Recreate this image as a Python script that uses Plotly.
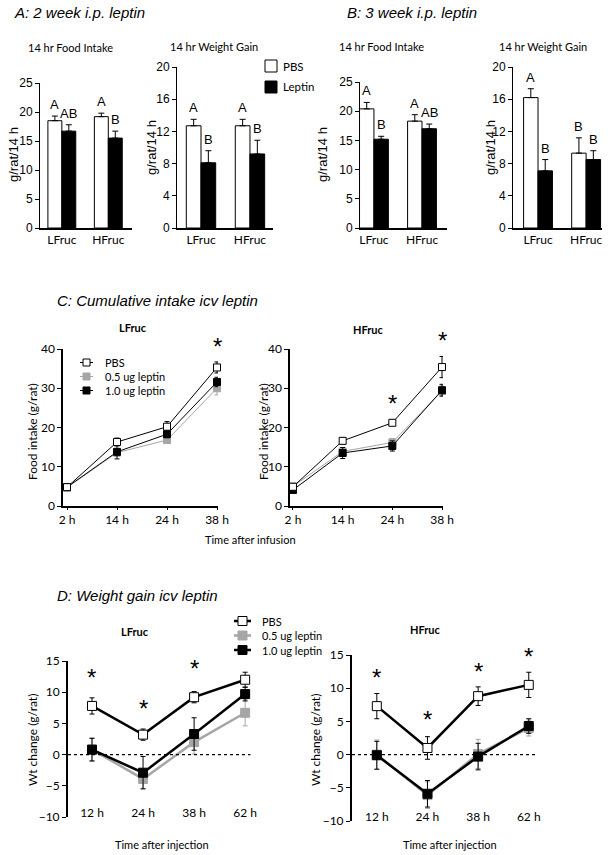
import plotly.graph_objects as go

W, H = 615, 855

# ---- data ----
groups = ["LFruc", "HFruc"]

# A: 2 week i.p. leptin
a_food_pbs = [18.5, 19.2]
a_food_pbs_err = [0.8, 0.6]
a_food_lep = [16.7, 15.5]
a_food_lep_err = [1.1, 1.2]
a_wt_pbs = [12.7, 12.7]
a_wt_pbs_err = [0.8, 0.8]
a_wt_lep = [8.1, 9.2]
a_wt_lep_err = [1.5, 1.7]

# B: 3 week i.p. leptin
b_food_pbs = [20.4, 18.3]
b_food_pbs_err = [1.1, 1.1]
b_food_lep = [15.2, 17.0]
b_food_lep_err = [0.5, 0.8]
b_wt_pbs = [16.2, 9.3]
b_wt_pbs_err = [1.1, 1.9]
b_wt_lep = [7.1, 8.5]
b_wt_lep_err = [1.4, 1.1]

# significance letters (PBS, Leptin) per group
a_food_letters = (["A", "A"], ["AB", "B"])
a_wt_letters = (["A", "A"], ["B", "B"])
b_food_letters = (["A", "A"], ["B", "AB"])
b_wt_letters = (["A", "B"], ["B", "B"])

# C: cumulative intake icv leptin
times_c = ["2 h", "14 h", "24 h", "38 h"]
c_l_pbs = [4.8, 16.3, 20.2, 35.3]
c_l_pbs_err = [0.3, 1.0, 1.3, 1.4]
c_l_05 = [4.7, 13.6, 16.8, 30.0]
c_l_05_err = [0.3, 1.0, 0.6, 1.7]
c_l_10 = [4.8, 13.8, 18.3, 31.6]
c_l_10_err = [0.3, 1.8, 0.9, 1.2]
c_h_pbs = [4.9, 16.6, 21.2, 35.4]
c_h_pbs_err = [0.4, 0.8, 0.7, 2.7]
c_h_05 = [5.0, 13.9, 16.2, 29.3]
c_h_05_err = [0.4, 0.9, 1.0, 1.3]
c_h_10 = [4.1, 13.5, 15.3, 29.5]
c_h_10_err = [0.4, 1.4, 1.3, 1.5]
c_l_stars = (["38 h"], [41.5])
c_h_stars = (["24 h", "38 h"], [27.0, 43.0])

# D: weight gain icv leptin
times_d = ["12 h", "24 h", "38 h", "62 h"]
d_l_pbs = [7.8, 3.2, 9.2, 12.0]
d_l_pbs_err = [1.3, 0.9, 0.9, 1.2]
d_l_05 = [0.8, -3.9, 2.0, 6.7]
d_l_05_err = [1.9, 1.5, 1.9, 2.1]
d_l_10 = [0.8, -2.9, 3.3, 9.7]
d_l_10_err = [1.8, 2.6, 2.6, 1.1]
d_h_pbs = [7.3, 1.0, 8.8, 10.5]
d_h_pbs_err = [1.9, 1.7, 1.4, 1.9]
d_h_05 = [0.0, -6.1, 0.1, 4.0]
d_h_05_err = [2.2, 2.0, 2.2, 1.2]
d_h_10 = [-0.1, -5.9, -0.3, 4.3]
d_h_10_err = [2.1, 2.0, 2.0, 1.1]
d_l_stars = (["12 h", "24 h", "38 h"], [12.8, 7.8, 14.2])
d_h_stars = (["12 h", "24 h", "38 h", "62 h"], [12.0, 5.8, 13.0, 15.3])

dose_names = ["PBS", "0.5 ug leptin", "1.0 ug leptin"]
bar_names = ["PBS", "Leptin"]

ARIAL = "Liberation Sans, Arial"
CALI = "Lato, Open Sans"
GRAY = "#a6a6a6"


def fx(p):
    return p / W


def fy(p):
    return 1 - p / H


panels = {
    1: dict(x=(40, 132, [-0.47, 1.51]), y=(83, 228, [0, 25], 5)),
    2: dict(x=(177, 273, [-0.49, 1.47]), y=(67, 228, [0, 20], 4)),
    3: dict(x=(360, 447, [-0.29, 1.52]), y=(82, 228, [0, 25], 5)),
    4: dict(x=(513, 602, [-0.52, 1.33]), y=(67, 228, [0, 20], 4)),
    5: dict(x=(63, 218, [-0.08, 3.02]), y=(349, 506, [0, 40], 10)),
    6: dict(x=(290, 443, [-0.06, 3.02]), y=(349, 506, [0, 40], 10)),
    7: dict(x=(68, 262, [-0.47, 3.33]), y=(661, 817, [-10, 15], 5)),
    8: dict(x=(352, 548, [-0.49, 3.38]), y=(655, 821, [-10, 15], 5)),
}

fig = go.Figure()
annots = []
shapes = []


def bar_panel(n, pbs, pbs_err, lep, lep_err, letters):
    xa = "x" if n == 1 else f"x{n}"
    ya = "y" if n == 1 else f"y{n}"
    fig.add_trace(go.Bar(x=groups, y=pbs, name=bar_names[0], xaxis=xa, yaxis=ya,
                         marker=dict(color="white", line=dict(color="black", width=1)),
                         error_y=dict(type="data", array=pbs_err, arrayminus=[0] * len(pbs),
                                      symmetric=False, color="black", thickness=1, width=3)))
    fig.add_trace(go.Bar(x=groups, y=lep, name=bar_names[1], xaxis=xa, yaxis=ya,
                         marker=dict(color="black", line=dict(color="black", width=1)),
                         error_y=dict(type="data", array=lep_err, arrayminus=[0] * len(lep),
                                      symmetric=False, color="black", thickness=1, width=3)))
    for k, (vals, errs, labs) in enumerate([(pbs, pbs_err, letters[0]), (lep, lep_err, letters[1])]):
        for i in range(len(groups)):
            annots.append(dict(x=i - 0.15 + 0.3 * k, y=vals[i] + errs[i], xref=xa, yref=ya,
                               text=labs[i], showarrow=False, yanchor="bottom", yshift=2,
                               font=dict(family=ARIAL, size=13, color="black")))


bar_panel(1, a_food_pbs, a_food_pbs_err, a_food_lep, a_food_lep_err, a_food_letters)
bar_panel(2, a_wt_pbs, a_wt_pbs_err, a_wt_lep, a_wt_lep_err, a_wt_letters)
bar_panel(3, b_food_pbs, b_food_pbs_err, b_food_lep, b_food_lep_err, b_food_letters)
bar_panel(4, b_wt_pbs, b_wt_pbs_err, b_wt_lep, b_wt_lep_err, b_wt_letters)


def line_panel(n, x, series, lw, ms, stars):
    xa = f"x{n}"
    ya = f"y{n}"
    # draw order: 0.5, 1.0, PBS on top
    for name, vals, errs, fill in series:
        line_col = GRAY if fill == GRAY else "black"
        fig.add_trace(go.Scatter(x=x, y=vals, name=name, xaxis=xa, yaxis=ya,
                                 mode="lines+markers", cliponaxis=False,
                                 line=dict(color=line_col, width=lw),
                                 marker=dict(symbol="square", size=ms, color=fill,
                                             line=dict(color=line_col, width=1)),
                                 error_y=dict(type="data", array=errs, color=line_col,
                                              thickness=1, width=2.5)))
    # significance stars; y given in data units, placed on the axis domain so
    # that stars above the top of the range are still drawn
    lo, hi = panels[n]["y"][2]
    for sx, sy in zip(*stars):
        annots.append(dict(x=sx, y=(sy - lo) / (hi - lo), xref=xa, yref=ya + " domain",
                           text="*", showarrow=False, yanchor="middle", yshift=-3,
                           font=dict(family=ARIAL, size=24, color="black")))


line_panel(5, times_c, [(dose_names[1], c_l_05, c_l_05_err, GRAY),
                        (dose_names[2], c_l_10, c_l_10_err, "black"),
                        (dose_names[0], c_l_pbs, c_l_pbs_err, "white")], 1, 7, c_l_stars)
line_panel(6, times_c, [(dose_names[1], c_h_05, c_h_05_err, GRAY),
                        (dose_names[2], c_h_10, c_h_10_err, "black"),
                        (dose_names[0], c_h_pbs, c_h_pbs_err, "white")], 1, 7, c_h_stars)
line_panel(7, times_d, [(dose_names[1], d_l_05, d_l_05_err, GRAY),
                        (dose_names[2], d_l_10, d_l_10_err, "black"),
                        (dose_names[0], d_l_pbs, d_l_pbs_err, "white")], 2.5, 9, d_l_stars)
line_panel(8, times_d, [(dose_names[1], d_h_05, d_h_05_err, GRAY),
                        (dose_names[2], d_h_10, d_h_10_err, "black"),
                        (dose_names[0], d_h_pbs, d_h_pbs_err, "white")], 2.5, 9, d_h_stars)

# ---- axes ----
tickfont_a = dict(family=ARIAL, size=12, color="black")
tickfont_c = dict(family=CALI, size=12, color="black")


def yax(top, bottom, rng, dtick, font, lw=1):
    return dict(domain=[fy(bottom), fy(top)], range=rng, dtick=dtick,
                showline=True, linecolor="black", linewidth=lw, ticks="outside", ticklen=4,
                tickcolor="black", tickwidth=1, showgrid=False, zeroline=False, tickfont=font)


def xax(left, right, rng, font, lw=1.5, ticks="", show_line=True):
    return dict(domain=[fx(left), fx(right)], range=rng, type="category", showline=show_line,
                linecolor="black", linewidth=lw, ticks=ticks, ticklen=2, tickcolor="black",
                showgrid=False, zeroline=False, tickfont=font)


for n, p in panels.items():
    xl, xr, xrng = p["x"]
    yt, yb, yrng, dt = p["y"]
    suf = "" if n == 1 else str(n)
    if n <= 4:
        xa = xax(xl, xr, xrng, dict(family=CALI, size=12, color="black"))
        ya = yax(yt, yb, yrng, dt, tickfont_a)
        xa["anchor"] = "y" + suf
    elif n <= 6:
        xa = xax(xl, xr, xrng, tickfont_c, lw=1.5, ticks="outside")
        ya = yax(yt, yb, yrng, dt, tickfont_c, lw=1.5)
        xa["anchor"] = "y" + suf
    else:
        xa = xax(xl, xr, xrng, tickfont_c, show_line=False)
        xa.update(anchor="free", position=fy(yb - 13))
        ya = yax(yt, yb, yrng, dt, tickfont_c, lw=2)
    ya["anchor"] = "x" + suf
    xa["automargin"] = False
    ya["automargin"] = False
    fig.layout["xaxis" + suf] = xa
    fig.layout["yaxis" + suf] = ya

# dotted zero lines in D
for n in (7, 8):
    shapes.append(dict(type="line", xref=f"x{n} domain", yref=f"y{n}", x0=0, x1=0.94, y0=0, y1=0,
                       line=dict(color="black", width=1.2, dash="dot")))


def txt(x, y, s, size=12, family=CALI, angle=0, anchor="center", italic=False, bold=False):
    if bold:
        s = "<b>" + s + "</b>"
    if italic:
        s = "<i>" + s + "</i>"
    annots.append(dict(x=fx(x), y=fy(y), xref="paper", yref="paper", text=s, showarrow=False,
                       xanchor=anchor, yanchor="middle", textangle=angle,
                       font=dict(family=family, size=size, color="black")))


txt(12, 12, "A: 2 week i.p. leptin", size=15, family=ARIAL, anchor="left", italic=True)
txt(345, 12, "B: 3 week i.p. leptin", size=15, family=ARIAL, anchor="left", italic=True)
txt(55, 300, "C: Cumulative intake icv leptin", size=15, family=ARIAL, anchor="left", italic=True)
txt(55, 595, "D: Weight gain icv leptin", size=15, family=ARIAL, anchor="left", italic=True)

txt(70, 48, "14 hr Food Intake", size=11)
txt(214, 47, "14 hr Weight Gain", size=11)
txt(381, 46, "14 hr Food Intake", size=11)
txt(543, 47, "14 hr Weight Gain", size=11)

txt(13, 155, "g/rat/14 h", size=13, family=ARIAL, angle=-90)
txt(152, 148, "g/rat/14 h", size=13, family=ARIAL, angle=-90)
txt(322, 155, "g/rat/14 h", size=13, family=ARIAL, angle=-90)
txt(491, 148, "g/rat/14 h", size=13, family=ARIAL, angle=-90)

txt(133, 327, "LFruc", size=11, bold=True)
txt(368, 329, "HFruc", size=11, bold=True)
txt(32, 432, "Food intake (g/rat)", size=12, angle=-90)
txt(263, 432, "Food intake (g/rat)", size=12, angle=-90)
txt(250, 539, "Time after infusion", size=11)

txt(135, 631, "LFruc", size=11, bold=True)
txt(426, 629, "HFruc", size=11, bold=True)
txt(32, 740, "Wt change (g/rat)", size=12, angle=-90)
txt(315, 740, "Wt change (g/rat)", size=12, angle=-90)
txt(162, 844, "Time after injection", size=11)
txt(450, 844, "Time after injection", size=11)


# ---- hand-built legends (tighter row spacing than plotly's legend allows) ----
def rect(x0, y0, x1, y1, fill, line_col="black", lw=1):
    shapes.append(dict(type="rect", xref="paper", yref="paper", x0=fx(x0), x1=fx(x1),
                       y0=fy(y1), y1=fy(y0), fillcolor=fill, line=dict(color=line_col, width=lw)))


def seg(x0, x1, y, col, lw):
    shapes.append(dict(type="line", xref="paper", yref="paper", x0=fx(x0), x1=fx(x1),
                       y0=fy(y), y1=fy(y), line=dict(color=col, width=lw)))


# bar legend
for i, (name, fill) in enumerate(zip(bar_names, ["white", "black"])):
    yc = 66 + 21 * i
    rect(265, yc - 6, 277, yc + 6, fill)
    txt(281, yc, name, size=11.5, anchor="left")

# line legends (C and D)
for x0, x1, ytop, dy, ms, lw, tx in [(80, 93, 362.5, 14, 7, 1, 103), (234, 251, 621, 14.5, 9, 2.5, 260)]:
    for i, (name, fill) in enumerate(zip(dose_names, ["white", GRAY, "black"])):
        yc = ytop + dy * i
        col = GRAY if fill == GRAY else "black"
        seg(x0, x1, yc, col, lw)
        xm = (x0 + x1) / 2
        rect(xm - ms / 2, yc - ms / 2, xm + ms / 2, yc + ms / 2, fill, col, 1)
        txt(tx, yc, name, size=11, anchor="left")

fig.update_layout(
    width=W, height=H, margin=dict(l=0, r=0, t=0, b=0, autoexpand=False),
    paper_bgcolor="white", plot_bgcolor="white",
    barmode="group", bargap=0.4, bargroupgap=0,
    annotations=annots, shapes=shapes,
    showlegend=False,
)

fig.write_html("out.html", config={"displayModeBar": False},
               post_script="document.body.style.margin='0px';")
